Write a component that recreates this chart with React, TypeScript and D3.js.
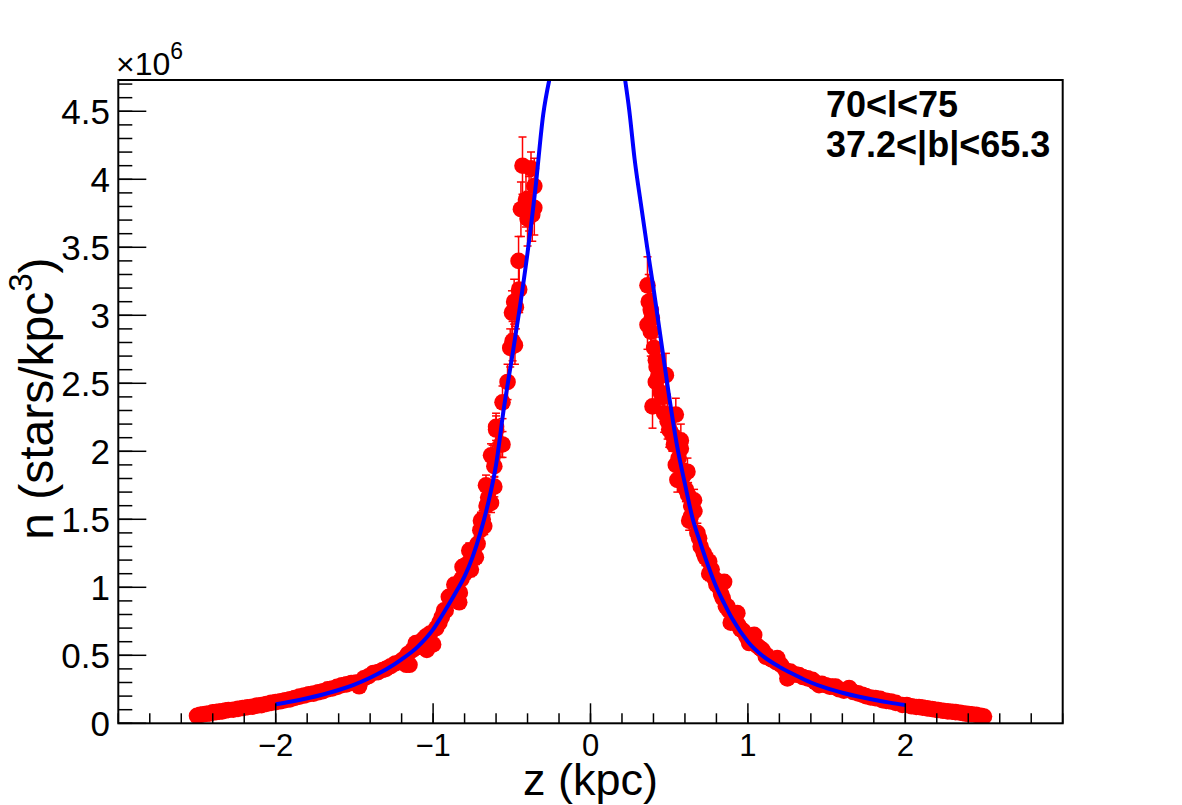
import React from 'react';
import * as d3 from 'd3';

// values of n are in units of 10^6 stars/kpc^3
const southPoints: [number, number, number][] = [
  [-2.50,0.055,0.006],[-2.48,0.062,0.006],[-2.46,0.066,0.006],[-2.44,0.070,0.007],[-2.42,0.072,0.007],
  [-2.40,0.080,0.007],[-2.38,0.082,0.007],[-2.36,0.086,0.008],[-2.34,0.088,0.008],[-2.32,0.094,0.008],
  [-2.30,0.098,0.008],[-2.27,0.100,0.009],[-2.24,0.106,0.009],[-2.21,0.112,0.009],[-2.18,0.118,0.010],
  [-2.15,0.122,0.010],[-2.12,0.130,0.010],[-2.09,0.134,0.011],[-2.06,0.142,0.011],[-2.03,0.150,0.011],
  [-2.00,0.156,0.012],[-1.97,0.162,0.012],[-1.94,0.170,0.012],[-1.91,0.176,0.013],[-1.88,0.186,0.013],
  [-1.85,0.196,0.013],[-1.82,0.204,0.014],[-1.79,0.214,0.014],[-1.76,0.218,0.014],[-1.73,0.228,0.015],
  [-1.70,0.236,0.015],[-1.67,0.250,0.016],[-1.64,0.256,0.016],[-1.61,0.268,0.017],[-1.58,0.280,0.017],
  [-1.55,0.286,0.018],[-1.52,0.296,0.018],[-1.49,0.300,0.019],[-1.47,0.272,0.018],[-1.44,0.330,0.020],
  [-1.41,0.346,0.020],[-1.38,0.370,0.021],[-1.35,0.376,0.022],[-1.32,0.392,0.022],[-1.30,0.400,0.023],
  [-1.27,0.420,0.024],[-1.24,0.440,0.025],[-1.21,0.452,0.025],[-1.19,0.470,0.026],[-1.17,0.430,0.025],
  [-1.16,0.510,0.027],[-1.15,0.430,0.025],[-1.13,0.540,0.028],[-1.11,0.590,0.030],[-1.10,0.560,0.029],
  [-1.08,0.600,0.030],[-1.06,0.620,0.031],[-1.045,0.640,0.032],[-1.04,0.540,0.028],[-1.02,0.660,0.032],
  [-1.00,0.580,0.030],[-0.98,0.700,0.034],[-0.96,0.740,0.035],[-0.945,0.780,0.036],[-0.93,0.830,0.038],
  [-0.92,0.830,0.038],[-0.90,0.930,0.040],[-0.88,0.920,0.040],[-0.865,1.020,0.045],[-0.85,0.980,0.043],
  [-0.834,0.890,0.040],[-0.83,0.960,0.042],[-0.82,1.060,0.046],[-0.813,1.150,0.050],[-0.80,1.100,0.048],
  [-0.785,1.170,0.050],[-0.77,1.270,0.055],[-0.76,1.130,0.050],[-0.745,1.240,0.054],[-0.728,1.220,0.053],
  [-0.717,1.320,0.057],[-0.70,1.420,0.060],[-0.696,1.490,0.062],[-0.685,1.500,0.063],[-0.675,1.450,0.062],
  [-0.664,1.750,0.075],[-0.66,1.600,0.068],[-0.65,1.660,0.070],[-0.64,1.720,0.073],[-0.632,1.620,0.070],
  [-0.622,1.960,0.085],[-0.632,1.970,0.085],[-0.611,1.740,0.075],[-0.611,1.890,0.080],[-0.60,2.160,0.100],
  [-0.60,2.180,0.100],[-0.569,2.050,0.095],[-0.559,2.050,0.095],[-0.559,2.360,0.120],[-0.527,2.510,0.130],
  [-0.51,2.760,0.140],[-0.495,2.810,0.145],[-0.48,2.780,0.140],[-0.499,3.020,0.160],[-0.474,3.060,0.160],
  [-0.485,3.100,0.165],[-0.453,3.190,0.170],[-0.457,3.400,0.180],[-0.442,3.780,0.200],[-0.40,3.710,0.200],
  [-0.41,3.850,0.200],[-0.37,3.740,0.195],[-0.39,3.820,0.200],[-0.357,3.790,0.200],[-0.357,3.950,0.205],
  [-0.378,4.080,0.120],[-0.432,4.100,0.210],
];

const northPoints: [number, number, number][] = [
  [0.362,3.22,0.21],[0.37,3.10,0.20],[0.383,3.04,0.19],[0.362,2.93,0.18],[0.383,2.88,0.18],[0.39,2.98,0.18],
  [0.404,2.76,0.17],[0.415,2.67,0.17],[0.42,2.62,0.16],[0.479,2.56,0.16],[0.415,2.51,0.16],[0.43,2.55,0.16],
  [0.447,2.43,0.15],[0.46,2.40,0.15],[0.394,2.33,0.16],[0.468,2.28,0.14],[0.542,2.27,0.12],[0.49,2.22,0.13],
  [0.50,2.16,0.13],[0.52,2.12,0.12],[0.574,2.08,0.12],[0.53,2.05,0.12],[0.574,2.02,0.11],[0.56,1.95,0.10],
  [0.542,1.90,0.10],[0.616,1.85,0.10],[0.59,1.82,0.09],[0.552,1.79,0.09],[0.606,1.72,0.09],[0.62,1.68,0.09],
  [0.658,1.64,0.08],[0.64,1.60,0.08],[0.66,1.56,0.08],[0.637,1.52,0.08],[0.627,1.49,0.07],[0.679,1.40,0.07],
  [0.69,1.36,0.07],[0.70,1.30,0.06],[0.72,1.25,0.06],[0.73,1.22,0.06],[0.754,1.19,0.06],[0.77,1.13,0.05],
  [0.754,1.10,0.05],[0.79,1.06,0.05],[0.849,1.04,0.05],[0.80,1.02,0.05],[0.817,1.00,0.05],[0.83,0.95,0.04],
  [0.84,0.92,0.04],[0.86,0.86,0.04],[0.87,0.86,0.04],[0.88,0.83,0.04],[0.933,0.81,0.04],[0.91,0.78,0.04],
  [0.92,0.76,0.04],[0.891,0.74,0.04],[0.94,0.72,0.03],[0.955,0.69,0.03],[0.97,0.68,0.03],[0.99,0.64,0.03],
  [1.04,0.65,0.03],[1.02,0.61,0.03],[1.008,0.59,0.03],[1.06,0.57,0.03],[1.08,0.55,0.03],[1.092,0.54,0.03],
  [1.114,0.49,0.02],[1.12,0.50,0.02],[1.15,0.47,0.02],[1.187,0.48,0.02],[1.18,0.45,0.02],[1.21,0.43,0.02],
  [1.24,0.39,0.02],[1.251,0.33,0.02],[1.27,0.38,0.02],[1.30,0.36,0.02],[1.325,0.355,0.02],[1.35,0.34,0.02],
  [1.38,0.33,0.02],[1.41,0.32,0.02],[1.43,0.30,0.02],[1.452,0.28,0.02],[1.47,0.29,0.02],[1.495,0.28,0.02],
  [1.52,0.27,0.015],[1.537,0.27,0.015],[1.558,0.27,0.015],[1.58,0.25,0.015],[1.61,0.24,0.015],[1.643,0.26,0.015],
  [1.67,0.23,0.015],[1.70,0.22,0.014],[1.727,0.21,0.014],[1.75,0.20,0.014],[1.78,0.19,0.013],[1.81,0.185,0.013],
  [1.84,0.18,0.013],[1.854,0.17,0.012],[1.88,0.165,0.012],[1.91,0.16,0.012],[1.94,0.15,0.011],[1.981,0.135,0.011],
  [2.01,0.135,0.011],[2.04,0.125,0.010],[2.07,0.12,0.010],[2.087,0.12,0.010],[2.11,0.115,0.010],[2.14,0.11,0.009],
  [2.17,0.105,0.009],[2.193,0.10,0.009],[2.21,0.098,0.009],[2.24,0.092,0.008],[2.27,0.088,0.008],[2.298,0.085,0.008],
  [2.32,0.082,0.008],[2.35,0.078,0.007],[2.38,0.072,0.007],[2.404,0.068,0.007],[2.42,0.066,0.007],[2.45,0.062,0.006],
  [2.48,0.056,0.006],[2.50,0.05,0.006],
];

const fitSouth: [number, number][] = [
  [-2.00,0.140],[-1.90,0.160],[-1.80,0.184],[-1.70,0.212],[-1.60,0.245],[-1.50,0.285],[-1.40,0.335],
  [-1.30,0.395],[-1.20,0.470],[-1.10,0.560],[-1.00,0.690],[-0.95,0.780],[-0.90,0.875],[-0.85,0.975],
  [-0.80,1.080],[-0.75,1.220],[-0.70,1.400],[-0.65,1.620],[-0.60,1.900],[-0.55,2.320],[-0.50,2.680],
  [-0.45,3.050],[-0.40,3.460],[-0.35,3.930],[-0.30,4.480],[-0.262,4.730],
];

const fitNorth: [number, number][] = [
  [0.220,4.730],[0.246,4.510],[0.28,4.150],[0.32,3.820],[0.36,3.500],[0.40,3.200],[0.45,2.800],
  [0.50,2.400],[0.55,2.040],[0.60,1.760],[0.65,1.500],[0.70,1.320],[0.75,1.150],[0.80,1.000],
  [0.85,0.880],[0.90,0.770],[1.00,0.600],[1.10,0.490],[1.20,0.415],[1.30,0.355],[1.40,0.300],
  [1.50,0.258],[1.60,0.225],[1.70,0.197],[1.80,0.173],[1.90,0.152],[2.00,0.134],
];

const xTickLabels = [-2, -1, 0, 1, 2];
const yTickLabels = [0, 0.5, 1, 1.5, 2, 2.5, 3, 3.5, 4, 4.5];
const labelLines = ['70<l<75', '37.2<|b|<65.3'];

const FONT = '"Liberation Sans", Arial, Helvetica, sans-serif';

export default function App() {
  const L = 118.3, R = 1062.7, T = 80, B = 723.3;
  const x = d3.scaleLinear().domain([-3, 3]).range([L, R]);
  const y = d3.scaleLinear().domain([0, 4.73]).range([B, T]);

  const xMinor = d3.range(-30, 31, 2).map((v) => v / 10);
  const yMinor = d3.range(0, 48, 1).map((v) => v / 10).filter((v) => v <= 4.73);

  const line = d3
    .line<[number, number]>()
    .x((d) => x(d[0]))
    .y((d) => y(d[1]))
    .curve(d3.curveMonotoneX);

  const allPoints = [...southPoints, ...northPoints];
  const cap = 4;

  return (
    <svg
      width={1182}
      height={805}
      style={{ position: 'absolute', left: 0, top: 0, background: '#fff' }}
      fontFamily={FONT}
    >
      <defs>
        <clipPath id="frame">
          <rect x={L} y={T} width={R - L} height={B - T} />
        </clipPath>
      </defs>
      <rect x={0} y={0} width={1182} height={805} fill="#fff" />

      <g clipPath="url(#frame)">
        {allPoints.map(([z, n, e], i) => (
          <g key={'e' + i} stroke="#ff0000" strokeWidth={1.5}>
            <line x1={x(z)} x2={x(z)} y1={y(n - e)} y2={y(n + e)} />
            <line x1={x(z) - cap} x2={x(z) + cap} y1={y(n + e)} y2={y(n + e)} />
            <line x1={x(z) - cap} x2={x(z) + cap} y1={y(n - e)} y2={y(n - e)} />
          </g>
        ))}
        {allPoints.map(([z, n], i) => (
          <circle key={'m' + i} cx={x(z)} cy={y(n)} r={8.3} fill="#ff0000" />
        ))}
        <path d={line(fitSouth) || ''} fill="none" stroke="#0000ff" strokeWidth={4} />
        <path d={line(fitNorth) || ''} fill="none" stroke="#0000ff" strokeWidth={4} />
      </g>

      {/* frame */}
      <rect x={L} y={T} width={R - L} height={B - T} fill="none" stroke="#000" strokeWidth={2} />

      {/* x ticks */}
      {xMinor.map((v, i) => (
        <line key={'xm' + i} x1={x(v)} x2={x(v)} y1={B} y2={B - 10} stroke="#000" strokeWidth={1.5} />
      ))}
      {xTickLabels.map((v) => (
        <g key={'xt' + v}>
          <line x1={x(v)} x2={x(v)} y1={B} y2={B - 20} stroke="#000" strokeWidth={1.5} />
          <text x={x(v)} y={756} fontSize={31} textAnchor="middle" fill="#000">
            {v < 0 ? '\u2212' + Math.abs(v) : String(v)}
          </text>
        </g>
      ))}

      {/* y ticks */}
      {yMinor.map((v, i) => (
        <line key={'ym' + i} x1={L} x2={L + 14} y1={y(v)} y2={y(v)} stroke="#000" strokeWidth={1.5} />
      ))}
      {yTickLabels.map((v) => (
        <g key={'yt' + v}>
          <line x1={L} x2={L + 28} y1={y(v)} y2={y(v)} stroke="#000" strokeWidth={1.5} />
          <text x={110} y={y(v) + 12.5} fontSize={35} textAnchor="end" fill="#000">
            {String(v)}
          </text>
        </g>
      ))}

      {/* exponent */}
      <text x={116} y={75} fontSize={32} fill="#000">
        ×10
        <tspan fontSize={23} dy={-16}>6</tspan>
      </text>

      {/* axis titles */}
      <text x={(L + R) / 2} y={795} fontSize={45} textAnchor="middle" fill="#000">
        z (kpc)
      </text>
      <text
        transform={`translate(53, ${(T + B) / 2 - 3}) rotate(-90)`}
        fontSize={48}
        textAnchor="middle"
        fill="#000"
      >
        n (stars/kpc
        <tspan fontSize={33} dy={-21}>3</tspan>
        <tspan dy={21}>)</tspan>
      </text>

      {/* label */}
      {labelLines.map((t, i) => (
        <text key={t} x={826} y={117 + i * 40} fontSize={36} fontWeight="bold" fill="#000">
          {t}
        </text>
      ))}
    </svg>
  );
}
